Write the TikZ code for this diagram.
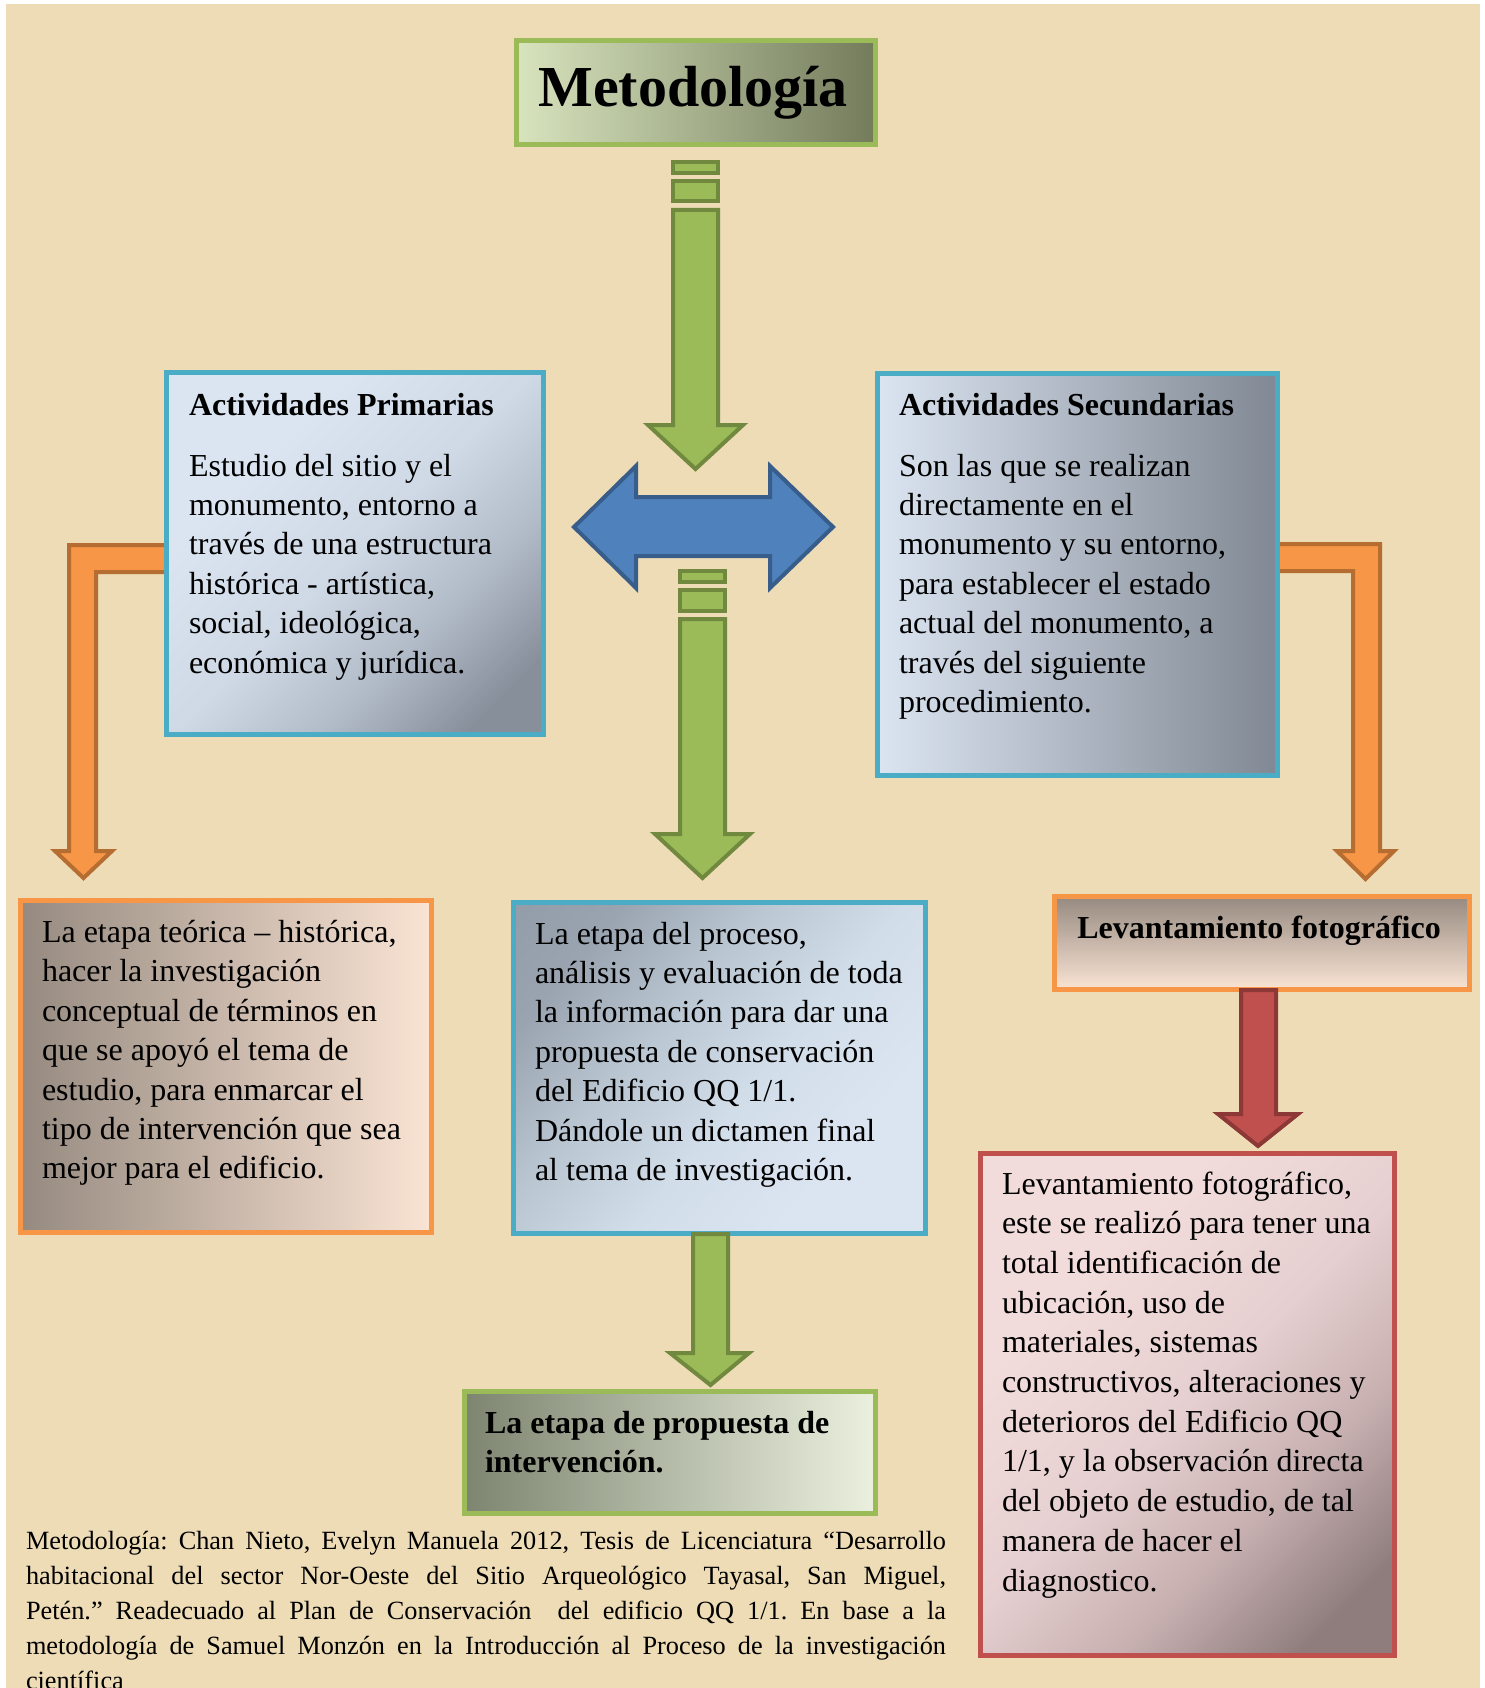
\documentclass[tikz,border=0pt]{standalone}
\usepackage{fontspec}
\setmainfont{Liberation Serif}
\usetikzlibrary{calc}
\definecolor{parch}{HTML}{EDDCB5}
\definecolor{greenbd}{HTML}{9BBB59}
\definecolor{greendk}{HTML}{71893F}
\definecolor{bluebd}{HTML}{4BACC6}
\definecolor{orangebd}{HTML}{F79646}
\definecolor{orangedk}{HTML}{B66D31}
\definecolor{redbd}{HTML}{C0504D}
\definecolor{reddk}{HTML}{8C3836}
\definecolor{bluefill}{HTML}{4F81BD}
\definecolor{bluedk}{HTML}{385D8A}
\definecolor{lblue}{HTML}{DBE5F1}
\definecolor{mblue}{HTML}{CFD9E5}
\definecolor{m2blue}{HTML}{B2BCC8}
\definecolor{sblue}{HTML}{B6C0CC}
\definecolor{dblue}{HTML}{878F9B}
\definecolor{pblue1}{HTML}{D2DDEA}
\definecolor{pblue2}{HTML}{BAC5D2}
\definecolor{pblue3}{HTML}{9AA4B1}
\definecolor{pblue4}{HTML}{8A94A1}
\definecolor{lpeach}{HTML}{FAE4D4}
\definecolor{mpeach}{HTML}{D4C2B5}
\definecolor{dpeach}{HTML}{968A80}
\definecolor{lpink}{HTML}{F2DCDB}
\definecolor{mpink}{HTML}{E6CFD0}
\definecolor{m2pink}{HTML}{C8B0B1}
\definecolor{dpink}{HTML}{8F7D7E}
\definecolor{lgreen}{HTML}{D8E4BE}
\definecolor{mgreen}{HTML}{B4C09A}
\definecolor{dgreen}{HTML}{737B5B}
\definecolor{wgreen}{HTML}{EBF1DE}
\definecolor{m2green}{HTML}{BCC6AE}
\definecolor{d2green}{HTML}{7D8571}
\pgfdeclareverticalshading{primshade}{100bp}{color(0bp)=(dblue); color(22bp)=(dblue);
  color(36bp)=(m2blue); color(50bp)=(mblue); color(68bp)=(lblue); color(100bp)=(lblue)}
\pgfdeclareverticalshading{procshade}{100bp}{color(0bp)=(lblue); color(30bp)=(lblue);
  color(45bp)=(pblue1); color(60bp)=(pblue2); color(74bp)=(pblue3); color(100bp)=(pblue4)}
\pgfdeclareverticalshading{redshade}{100bp}{color(0bp)=(dpink); color(22bp)=(dpink);
  color(36bp)=(m2pink); color(50bp)=(mpink); color(68bp)=(lpink); color(100bp)=(lpink)}
\tikzset{
  boxbase/.style={rectangle, line width=5pt, inner sep=0pt, outer sep=0pt},
  bluebox/.style={boxbase, draw=bluebd},
  greenbox/.style={boxbase, draw=greenbd},
  orangebox/.style={boxbase, draw=orangebd},
  redbox/.style={boxbase, draw=redbd},
  bodytxt/.style={inner sep=0pt, outer sep=0pt, anchor=base west, align=left,
    font=\fontsize{32}{39.4}\selectfont},
  headtxt/.style={inner sep=0pt, outer sep=0pt, anchor=base west, align=left,
    font=\fontsize{32}{39.6}\selectfont\bfseries},
  garrow/.style={fill=greenbd, draw=greendk, line width=4pt, line join=miter},
  barrow/.style={fill=bluefill, draw=bluedk, line width=4pt, line join=miter},
  oarrow/.style={fill=orangebd, draw=orangedk, line width=4pt, line join=miter},
  rarrow/.style={fill=redbd, draw=reddk, line width=4pt, line join=miter},
}
\begin{document}
\begin{tikzpicture}[x=1pt,y=-1pt]
\useasboundingbox (0,0) rectangle (1484,1688);
\fill[white] (0,0) rectangle (1484,1688);
\fill[parch] (6,4) rectangle (1480,1688);

% ---- bent orange arrows (drawn below the boxes)
\draw[oarrow] (168,545) -- (69,545) -- (69,851) -- (55,851) -- (83.5,878)
   -- (112,851) -- (96,851) -- (96,572) -- (168,572) -- cycle;
\draw[oarrow] (1276,544) -- (1380,544) -- (1380,851) -- (1394,851) -- (1365.5,879)
   -- (1337,851) -- (1353,851) -- (1353,571) -- (1276,571) -- cycle;

% ---- boxes
\node[greenbox, left color=lgreen, middle color=mgreen, right color=dgreen,
      minimum width=359pt, minimum height=104pt] (title) at (696,92.5) {};
\node[bluebox, shade, shading=primshade, shading angle=45,
      minimum width=377pt, minimum height=362pt] (prim) at (355,553.5) {};
\node[bluebox, left color=lblue, middle color=sblue, right color=dblue!95!black,
      minimum width=400pt, minimum height=402pt] (sec) at (1077.5,574.5) {};
\node[orangebox, left color=dpeach, middle color=mpeach, right color=lpeach,
      minimum width=411pt, minimum height=332pt] (teor) at (226,1066.5) {};
\node[bluebox, shade, shading=procshade, shading angle=50,
      minimum width=412pt, minimum height=331pt] (proc) at (719.5,1068) {};
\node[greenbox, left color=d2green, middle color=m2green, right color=wgreen,
      minimum width=411pt, minimum height=122pt] (prop) at (670,1452.5) {};
\node[orangebox, top color=dpeach, middle color=mpeach, bottom color=lpeach,
      minimum width=415pt, minimum height=93pt] (lev) at (1262,943) {};
\node[redbox, shade, shading=redshade, shading angle=45,
      minimum width=414pt, minimum height=502pt] (red) at (1187.5,1404.5) {};

% ---- striped green arrow 1
\draw[garrow] (673,162) rectangle (718,173);
\draw[garrow] (673,181) rectangle (718,201);
\draw[garrow] (673,210) -- (673,425) -- (648,425) -- (695.5,469) -- (743,425)
   -- (718,425) -- (718,210) -- cycle;
% ---- blue double arrow
\draw[barrow] (574,527) -- (636,466) -- (636,497) -- (770,497) -- (770,466)
   -- (833,527) -- (770,588) -- (770,556) -- (636,556) -- (636,588) -- cycle;
% ---- striped green arrow 2
\draw[garrow] (680,571) rectangle (725,582);
\draw[garrow] (680,590) rectangle (725,611);
\draw[garrow] (680,619) -- (680,834) -- (655,834) -- (702.5,878) -- (750,834)
   -- (725,834) -- (725,619) -- cycle;
% ---- green arrow 3 (proc -> prop)
\draw[garrow] (693,1234) -- (693,1353) -- (670,1353) -- (710.5,1385) -- (749,1353)
   -- (728,1353) -- (728,1234) -- cycle;
% ---- red arrow (lev -> red)
\draw[rarrow] (1241,990) -- (1241,1114) -- (1218,1114) -- (1258,1146) -- (1298,1114)
   -- (1276,1114) -- (1276,990) -- cycle;

% ---- texts (multi-line nodes: base anchor = last line)
\node[inner sep=0pt, anchor=base, font=\fontsize{58}{60}\selectfont\bfseries] (titletxt) at (693,107) {Metodología};

\node[headtxt] (primh) at (189,415) {Actividades Primarias};
\node[bodytxt] (primb) at (189,673) {Estudio del sitio y el\\monumento, entorno a\\través de una estructura\\histórica - artística,\\social, ideológica,\\económica y jurídica.};

\node[headtxt] (sech) at (899,415) {Actividades Secundarias};
\node[bodytxt] (secb) at (899,712.4) {Son las que se realizan\\directamente en el\\monumento y su entorno,\\para establecer el estado\\actual del monumento, a\\través del siguiente\\procedimiento.};

\node[bodytxt] (teorb) at (42,1178.9) {La etapa teórica – histórica,\\hacer la investigación\\conceptual de términos en\\que se apoyó el tema de\\estudio, para enmarcar el\\tipo de intervención que sea\\mejor para el edificio.};

\node[bodytxt] (procb) at (535,1180.4) {La etapa del proceso,\\análisis y evaluación de toda\\la información para dar una\\propuesta de conservación\\del Edificio QQ 1/1.\\Dándole un dictamen final\\al tema de investigación.};

\node[headtxt] (propb) at (485,1472.6) {La etapa de propuesta de\\intervención.};

\node[inner sep=0pt, anchor=base, font=\fontsize{32}{39}\selectfont\bfseries] (levh) at (1259,938) {Levantamiento fotográfico};

\node[inner sep=0pt, outer sep=0pt, anchor=base west, align=left,
      font=\fontsize{32}{39.7}\selectfont] (redb) at (1002,1591) {Levantamiento fotográfico,\\este se realizó para tener una\\total identificación de\\ubicación, uso de\\materiales, sistemas\\constructivos, alteraciones y\\deterioros del Edificio QQ\\1/1, y la observación directa\\del objeto de estudio, de tal\\manera de hacer el\\diagnostico.};

\node[inner sep=0pt, outer sep=0pt, anchor=base west, align=left,
      font=\fontsize{26.3}{35}\selectfont\frenchspacing] (foot) at (26,1689) {%
\hbox to 920pt{Metodología: Chan Nieto, Evelyn Manuela 2012, Tesis de Licenciatura “Desarrollo}\\
\hbox to 920pt{habitacional del sector Nor-Oeste del Sitio Arqueológico Tayasal, San Miguel,}\\
\hbox to 920pt{Petén.” Readecuado al Plan de Conservación \ del edificio QQ 1/1. En base a la}\\
\hbox to 920pt{metodología de Samuel Monzón en la Introducción al Proceso de la investigación}\\
científica};
\end{tikzpicture}
\end{document}
